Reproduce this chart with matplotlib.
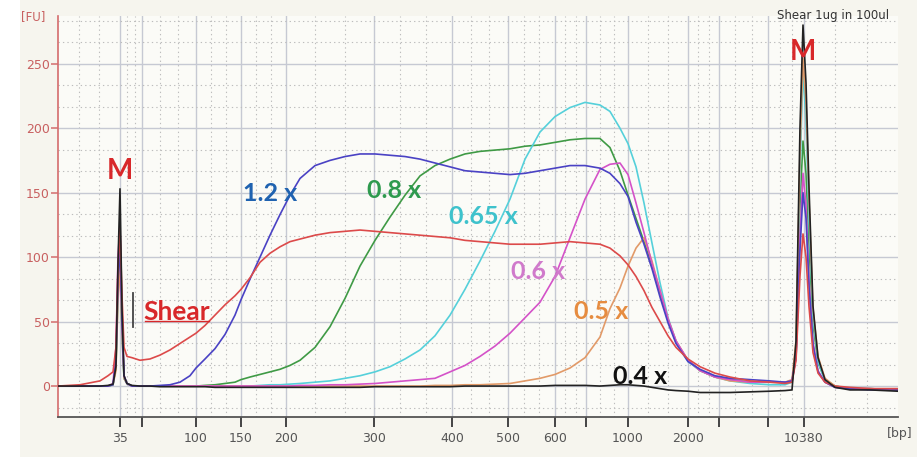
import numpy as np
import matplotlib
matplotlib.use("Agg")
import matplotlib.pyplot as plt
from matplotlib.lines import Line2D

# ---------------- data (migration time in s, fluorescence in FU) ----------------
time_s = [20.00, 22.62, 25.00, 25.95, 26.55, 26.90, 27.14, 27.38, 27.62, 27.86, 28.21, 28.81, 29.76,
          30.95, 32.14, 33.33, 34.52, 35.71, 36.43, 37.50, 38.69, 39.88, 41.07, 41.79, 42.86, 44.05,
          45.24, 46.43, 47.62, 48.81,
          50.60, 52.38, 54.17, 55.95, 57.74, 59.52, 61.31, 63.10, 64.88, 66.67, 68.45, 70.24, 72.02,
          73.81, 75.60, 77.38, 79.17, 80.95, 82.74, 84.52,
          85.71, 86.90, 87.86, 88.81, 89.76, 90.71, 91.67, 92.62, 93.57, 95.00, 96.43, 98.21,
          100.00, 102.38, 104.76, 106.55, 107.38, 107.86, 108.33, 108.69, 109.05, 109.40, 109.88,
          110.48, 111.31, 112.50, 114.29, 116.67, 120.00]

fu_04x = [0, 0, 0, 0.5, 1.5, 15, 95, 153, 60, 8, 2, 0.5, 0,
          0, -0.5, -0.5, -0.5, -0.5, -0.5, -0.5, -1, -1, -1, -1, -1, -1, -1, -1, -1, -1,
          -1, -1, -1, -1, -0.5, -0.5, -0.5, -0.5, -0.5, -0.5, 0, 0, 0, 0, 0, 0, 0.5, 0.5, 0.5, 0,
          0.5, 1, 1, 0.5, 0, -1, -2, -3, -3.5, -4, -5, -5,
          -5, -4.5, -4, -3.5, -3, 35, 200, 280, 235, 155, 62, 22, 5, -1, -3, -3, -4]

fu_shear = [0, 1, 4, 8, 11, 30, 90, 122, 70, 30, 23, 22, 20,
            21, 24, 28, 33, 38, 41, 47, 55, 63, 70, 75, 84, 96, 103, 108, 112, 114,
            117, 119, 120, 121, 120, 119, 118, 117, 116, 115, 113, 112, 111, 110, 110, 110, 111, 112, 111, 110,
            107, 101, 94, 85, 74, 61, 50, 39, 30, 21, 15, 10,
            7, 4, 3, 2, 3, 20, 85, 118, 100, 62, 26, 10, 3, 0, -1, -2, -2]

fu_12x = [0, 0, 0, 0, 1, 20, 80, 110, 50, 8, 2, 0, 0,
          0, 0.5, 1, 3, 8, 14, 21, 29, 40, 55, 67, 83, 100, 117, 133, 148, 161,
          171, 175, 178, 180, 180, 179, 178, 176, 173, 170, 167, 166, 165, 164, 165, 167, 169, 171, 171, 169,
          165, 157, 147, 127, 110, 91, 69, 49, 33, 19, 13, 8,
          6, 5, 4, 3, 4, 22, 105, 150, 130, 78, 32, 11, 3, -1, -2, -3, -3]

fu_08x = [0, 0, 0, 0, 1, 15, 75, 105, 45, 6, 2, 0, 0,
          0, 0, 0, 0, 0, 0, 0.5, 1, 2, 3, 5, 7, 9, 11, 13, 16, 20,
          30, 46, 68, 93, 113, 131, 148, 163, 171, 176, 180, 182, 183, 184, 186, 187, 189, 191, 192, 192,
          185, 167, 148, 130, 112, 94, 72, 51, 34, 20, 12, 7,
          5, 3, 3, 3, 4, 25, 140, 190, 165, 110, 48, 18, 5, 0, -2, -2, -3]

fu_065x = [0, 0, 0, 0, 1, 15, 70, 100, 40, 6, 2, 0, 0,
           0, 0, 0, 0, 0, 0, 0, 0, 0, 0, 0, 0, 0.5, 1, 1, 1.5, 2,
           3, 4, 6, 8, 11, 15, 21, 28, 39, 55, 75, 97, 120, 145, 176, 197, 209, 216, 220, 218,
           213, 200, 188, 170, 142, 111, 80, 53, 35, 19, 12, 7,
           4, 2, 1, 1, 3, 28, 165, 245, 205, 130, 54, 19, 4, 0, -2, -2, -3]

fu_06x = [0, 0, 0, 0, 2, 30, 100, 125, 55, 8, 2, 0, 0,
          0, 0, 0, 0, 0, 0, 0, 0, 0, 0, 0, 0, 0, 0, 0, 0, 0.5,
          0.5, 1, 1, 1.5, 2, 3, 4, 5, 6, 11, 16, 23, 31, 41, 53, 65, 85, 115, 145, 168,
          172, 173, 164, 142, 119, 95, 74, 52, 35, 20, 12, 7,
          5, 3, 3, 3, 4, 22, 115, 165, 140, 82, 34, 12, 3, -1, -2, -2, -3]

fu_05x = [0, 0, 0, 0, 1, 12, 65, 95, 40, 6, 2, 0, 0,
          0, 0, 0, 0, 0, 0, 0, 0, 0, 0, 0, 0, 0, 0, 0, 0, 0,
          0, 0, 0, 0, 0, 0, 0, 0, 0.5, 0.5, 1, 1, 1.5, 2, 4, 6, 9, 14, 22, 38,
          60, 76, 93, 107, 115, 97, 74, 52, 35, 20, 12, 7,
          4, 3, 3, 3, 5, 35, 180, 254, 220, 145, 60, 23, 6, 0, -2, -2, -3]

ladder_bp = [35, 50, 100, 150, 200, 300, 400, 500, 600, 700, 1000, 2000, 3000, 7000, 10380]
ladder_time = [27.38, 30.00, 36.43, 41.79, 47.14, 57.62, 66.90, 73.57, 79.17, 82.86,
               87.86, 95.00, 98.69, 104.52, 108.81]
ladder_labels = ['35', '', '100', '150', '200', '300', '400', '500', '600', '',
                 '1000', '2000', '', '', '10380']
fu_ticks = [0, 50, 100, 150, 200, 250]

# (values, line colour) in drawing order
series = [
    (fu_08x, '#3f9a45'),
    (fu_065x, '#55d0da'),
    (fu_05x, '#e29a68'),
    (fu_06x, '#d452c8'),
    (fu_12x, '#4a42c4'),
    (fu_shear, '#dc4a4a'),
    (fu_04x, '#222222'),
]

# ---------------- figure ----------------
fig = plt.figure(figsize=(9.17, 4.57), dpi=100, facecolor='#f6f5ee')
fig.patches.append(plt.Rectangle((0, 0), 20 / 917, 1, transform=fig.transFigure,
                                 facecolor='white', edgecolor='none', zorder=-5))
ax = fig.add_axes([58 / 917, 40 / 457, 840 / 917, 401 / 457])
ax.set_facecolor('#fbfbf7')

ax.set_xlim(20, 120)
ax.set_ylim(-24, 287)

# grid: solid at major, dotted at thirds
ax.set_xticks(ladder_time)
ax.set_xticklabels(ladder_labels)
edges = [20.0] + ladder_time + [120.0]
xminor = []
for a, b in zip(edges[:-1], edges[1:]):
    xminor += [a + (b - a) / 3, a + 2 * (b - a) / 3]
ax.set_xticks(xminor, minor=True)
ax.set_yticks(fu_ticks)
yminor = [v for v in np.arange(-50 / 3, 287, 50 / 3) if abs(v / 50 - round(v / 50)) > 1e-6]
ax.set_yticks(yminor, minor=True)

ax.grid(True, which='major', color='#c6c9d3', lw=1.0, zorder=0)
ax.grid(True, which='minor', color='#bdbdbd', lw=0.8, ls=(0, (1.2, 2.8)), zorder=0)
ax.set_axisbelow(True)

for vals, col in series:
    ax.plot(time_s, vals, color=col, lw=1.2, zorder=3)

# spines / ticks
for s in ['top', 'right']:
    ax.spines[s].set_visible(False)
ax.spines['left'].set_color('#d46c6c')
ax.spines['left'].set_linewidth(1.2)
ax.spines['bottom'].set_color('#555555')
ax.spines['bottom'].set_linewidth(1.3)
ax.tick_params(axis='y', which='major', colors='#d46c6c', labelcolor='#c86060',
               length=5, width=1.1, labelsize=9, pad=1)
ax.tick_params(axis='x', which='major', colors='#444444', labelcolor='#555555',
               length=7, width=1.4, labelsize=9, pad=4)
ax.tick_params(which='minor', length=0)

fig.text(33 / 917, 1 - 17 / 457, '[FU]', color='#c86060', fontsize=8.5,
         ha='center', va='center')
fig.text(900 / 917, 1 - 434 / 457, '[bp]', color='#555555', fontsize=9,
         ha='center', va='center')
fig.text(833 / 917, 1 - 16 / 457, 'Shear 1ug in 100ul', color='#333333', fontsize=8.5,
         ha='center', va='center')

# annotations
lab = dict(family='Lato', weight='bold', ha='center', va='center', zorder=5)
ax.text(27.38, 167, 'M', color='#d8282a', fontsize=20, **lab)
ax.text(108.69, 259, 'M', color='#d8282a', fontsize=20, **lab)
ax.text(45.24, 149.5, '1.2 x', color='#1f62b0', fontsize=18, **lab)
ax.text(60.0, 152, '0.8 x', color='#2e9a4e', fontsize=18, **lab)
ax.text(70.6, 131.5, '0.65 x', color='#3ec2cc', fontsize=18, **lab)
ax.text(77.14, 89, '0.6 x', color='#d07acb', fontsize=18, **lab)
ax.text(84.64, 57.5, '0.5 x', color='#e68c40', fontsize=18, **lab)
ax.text(89.29, 7.5, '0.4 x', color='#111111', fontsize=18, **lab)
shear_txt = ax.text(34.17, 57.5, 'Shear', color='#d8282a', fontsize=19, **lab)
ax.plot([28.93, 28.93], [72.4, 45.9], color='#444444', lw=1.3, zorder=5)

fig.canvas.draw()
bb = shear_txt.get_window_extent()
inv = fig.transFigure.inverted()
(x0, y0), (x1, _) = inv.transform([(bb.x0 + 1, bb.y0 + 3), (bb.x1 - 1, bb.y0 + 3)])
fig.add_artist(Line2D([x0, x1], [y0, y0], color='#d8282a', lw=1.0, transform=fig.transFigure))

fig.savefig('out.png', dpi=100, facecolor=fig.get_facecolor())
